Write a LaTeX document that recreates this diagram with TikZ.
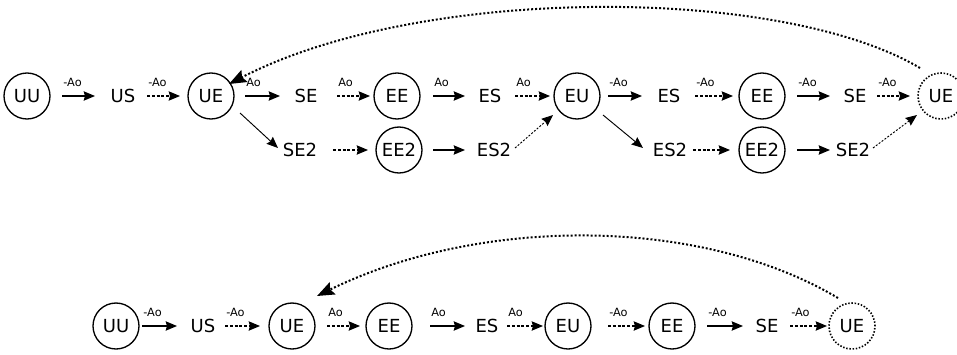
\documentclass[tikz,border=0pt]{standalone}
\usepackage{fontspec}
\setmainfont{DejaVu Sans}
\usetikzlibrary{arrows.meta,calc}
\begin{document}
\begin{tikzpicture}[x=0.75pt,y=-0.75pt,
  st/.style={circle,draw,line width=1pt,minimum size=34.5pt,inner sep=0pt,outer sep=0pt,font=\fontsize{13.5}{16}\selectfont},
  stdot/.style={st,line width=1.2pt,dash pattern=on 1.1pt off 1.3pt},
  tx/.style={inner sep=0pt,outer sep=0pt,font=\fontsize{13.5}{16}\selectfont},
  tip/.style={-{Stealth[length=8.5pt,width=7pt,inset=1pt]}},
  sol/.style={tip,line width=1.05pt},
  dsh/.style={tip,line width=0.9pt,dash pattern=on 2.2pt off 1.4pt},
  thn/.style={tip,line width=0.7pt},
  thndsh/.style={tip,line width=0.7pt,dash pattern=on 1.5pt off 1.2pt},
  back/.style={-{Stealth[length=13pt,width=10pt,inset=2pt]},line width=1.5pt,dash pattern=on 1.5pt off 1.5pt},
  lab/.style={pos=0,anchor=south west,inner sep=0pt,yshift=6.5pt,xshift=0.5pt,font=\fontsize{8.5}{10}\selectfont}
]
\useasboundingbox (0,0) rectangle (957,354);

% upper chain
\node[st]  (uuA) at (27,96)  {UU};
\node[tx]  (usA) at (123,96) {US};
\node[st]  (ueA) at (211,96) {UE};
\node[tx]  (seA) at (306,96) {SE};
\node[st]  (eeA) at (397,96) {EE};
\node[tx]  (esA) at (490,96) {ES};
\node[st]  (euA) at (577,96) {EU};
\node[tx]  (esB) at (669,96) {ES};
\node[st]  (eeB) at (762,96) {EE};
\node[tx]  (seB) at (855,96) {SE};
\node[stdot] (ueB) at (941,96) {UE};

% upper side branch
\node[tx]  (se2A) at (300,150) {SE2};
\node[st]  (ee2A) at (399,150) {EE2};
\node[tx]  (es2A) at (494,150) {ES2};
\node[tx]  (es2B) at (670,150) {ES2};
\node[st]  (ee2B) at (762,150) {EE2};
\node[tx]  (se2B) at (853,150) {SE2};

% lower chain
\node[st]  (uuC) at (116,326) {UU};
\node[tx]  (usC) at (203,326) {US};
\node[st]  (ueC) at (292,326) {UE};
\node[st]  (eeC) at (389,326) {EE};
\node[tx]  (esC) at (487,326) {ES};
\node[st]  (euC) at (568,326) {EU};
\node[st]  (eeD) at (672,326) {EE};
\node[tx]  (seD) at (767,326) {SE};
\node[stdot] (ueD) at (852,326) {UE};

% upper chain transitions
\draw[sol] ($(uuA)+(35,0)$) -- node[lab]{-Ao} ($(usA)+(-28,0)$);
\draw[dsh] ($(usA)+(24,0)$) -- node[lab]{-Ao} ($(ueA)+(-31,0)$);
\draw[sol] ($(ueA)+(34,0)$) -- node[lab]{Ao} ($(seA)+(-26,0)$);
\draw[dsh] ($(seA)+(31,0)$) -- node[lab]{Ao} ($(eeA)+(-27,0)$);
\draw[sol] ($(eeA)+(36,0)$) -- node[lab]{Ao} ($(esA)+(-25,0)$);
\draw[dsh] ($(esA)+(25,0)$) -- node[lab]{Ao} ($(euA)+(-27,0)$);
\draw[sol] ($(euA)+(31,0)$) -- node[lab]{-Ao} ($(esB)+(-27,0)$);
\draw[dsh] ($(esB)+(26,0)$) -- node[lab]{-Ao} ($(eeB)+(-29,0)$);
\draw[sol] ($(eeB)+(35,0)$) -- node[lab]{-Ao} ($(seB)+(-25,0)$);
\draw[dsh] ($(seB)+(22,0)$) -- node[lab]{-Ao} ($(ueB)+(-31,0)$);

% side branch transitions
\draw[thn] ($(ueA)+(29,17)$) -- ($(se2A)+(-22,-2)$);
\draw[dsh] ($(se2A)+(33,0)$) -- ($(ee2A)+(-31,0)$);
\draw[sol] ($(ee2A)+(34,0)$) -- ($(es2A)+(-29,0)$);
\draw[thndsh] ($(es2A)+(21,-2)$) -- ($(euA)+(-24,19)$);
\draw[thn] ($(euA)+(26,19)$) -- ($(es2B)+(-27,-2)$);
\draw[dsh] ($(es2B)+(23,0)$) -- ($(ee2B)+(-32,0)$);
\draw[sol] ($(ee2B)+(35,0)$) -- ($(se2B)+(-23,0)$);
\draw[thndsh] ($(se2B)+(20,-2)$) -- ($(ueB)+(-24,19)$);

% lower chain transitions
\draw[sol] ($(uuC)+(26,0)$) -- node[lab]{-Ao} ($(usC)+(-26,0)$);
\draw[dsh] ($(usC)+(22,0)$) -- node[lab]{-Ao} ($(ueC)+(-32,0)$);
\draw[dsh] ($(ueC)+(35,0)$) -- node[lab]{Ao} ($(eeC)+(-29,0)$);
\draw[sol] ($(eeC)+(41,0)$) -- node[lab]{Ao} ($(esC)+(-22,0)$);
\draw[dsh] ($(esC)+(20,0)$) -- node[lab]{Ao} ($(euC)+(-25,0)$);
\draw[dsh] ($(euC)+(40,0)$) -- node[lab]{-Ao} ($(eeD)+(-27,0)$);
\draw[sol] ($(eeD)+(35,0)$) -- node[lab]{-Ao} ($(seD)+(-24,0)$);
\draw[dsh] ($(seD)+(23,0)$) -- node[lab]{-Ao} ($(ueD)+(-25,0)$);

% return loops
\draw[back] ($(ueB)+(-21,-28)$) .. controls (780,-15) and (420,-15) .. ($(ueA)+(18,-12)$);
\draw[back] ($(ueD)+(-14,-28)$) .. controls (700,216) and (480,216) .. ($(ueC)+(25,-30)$);
\end{tikzpicture}
\end{document}
